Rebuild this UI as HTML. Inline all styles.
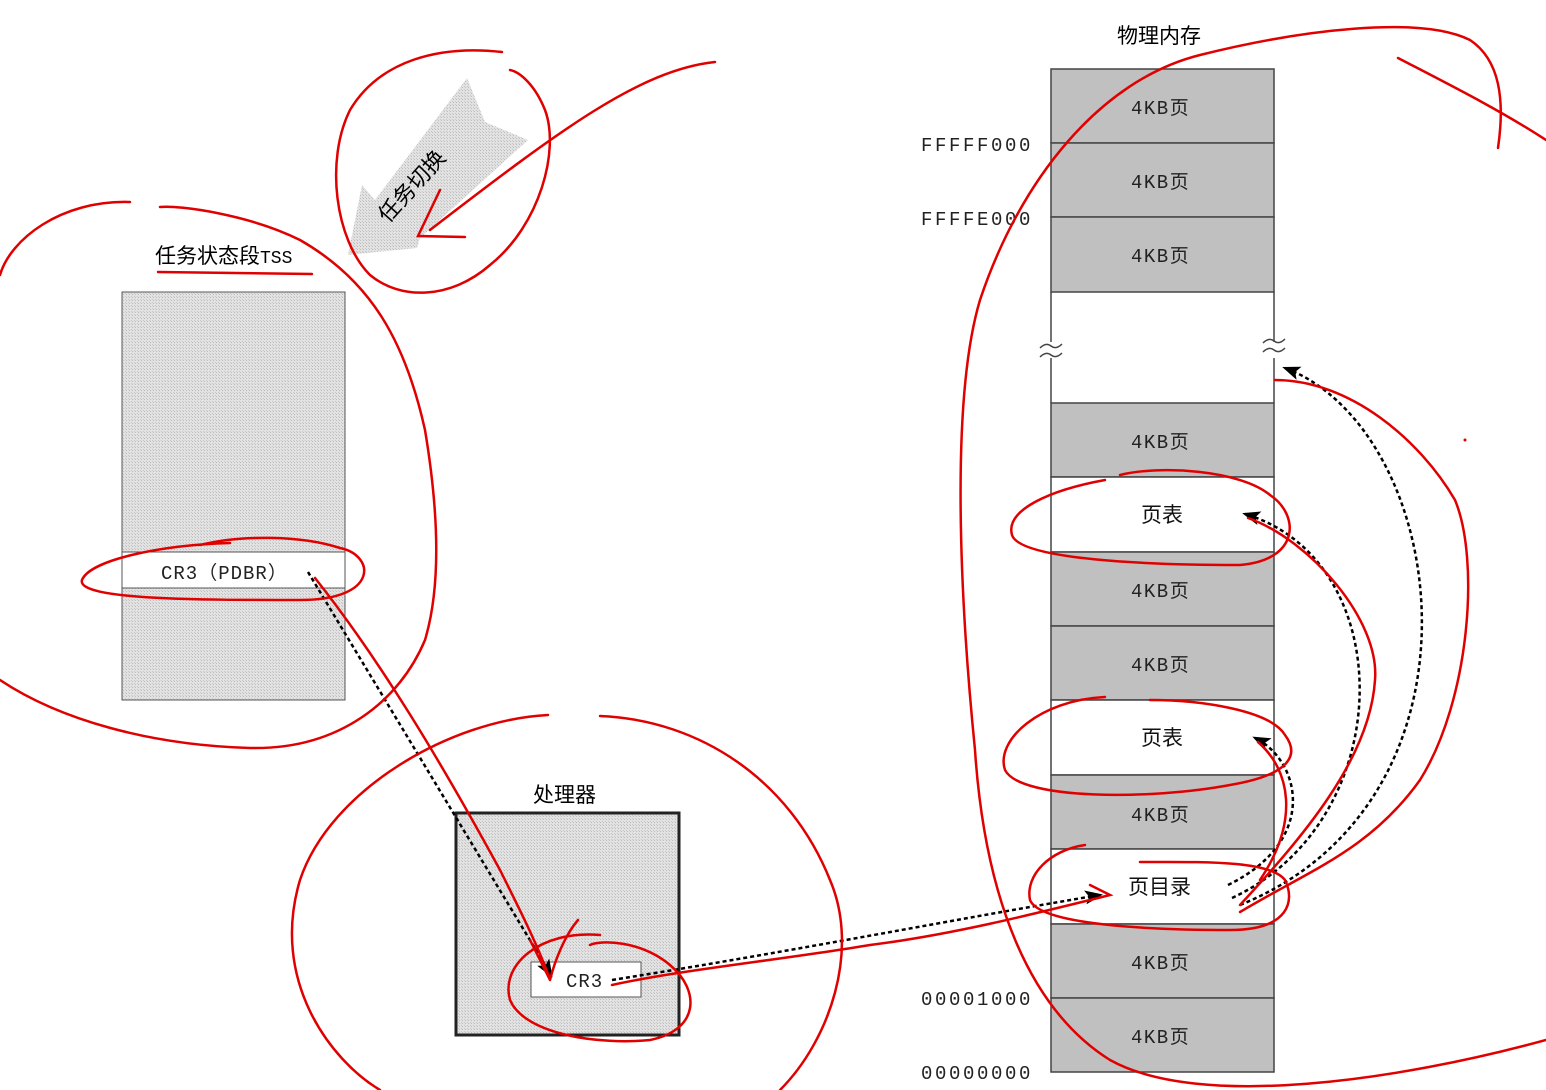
<!DOCTYPE html>
<html><head><meta charset="utf-8"><style>
html,body{margin:0;padding:0;background:#fff;}
svg{display:block;}
text{font-family:"Liberation Mono","Noto Sans CJK SC",monospace;}
.cjk{font-family:"Liberation Sans","Noto Sans CJK SC",sans-serif;}
</style></head><body>
<svg width="1546" height="1090" viewBox="0 0 1546 1090" xmlns="http://www.w3.org/2000/svg">
<defs>
<pattern id="hat" width="3" height="3" patternUnits="userSpaceOnUse">
<rect width="3" height="3" fill="#e2e2e2"/><rect width="1" height="1" fill="#bdbdbd"/><rect x="2" y="2" width="1" height="1" fill="#c8c8c8"/>
</pattern>
<marker id="ah" markerWidth="18" markerHeight="14" refX="15" refY="7" orient="auto" markerUnits="userSpaceOnUse" viewBox="0 0 18 14"><path d="M0,0 L18,7 L0,14 L4,7 z" fill="#000"/></marker>
</defs>

<!-- task switch arrow -->
<polygon points="467,78 485,122 528,140 420,238 417,248 348,255 362,185 375,200" fill="url(#hat)"/>
<text class="cjk" x="0" y="0" font-size="22" fill="#000" transform="translate(388,224) rotate(-48)">任务切换</text>

<!-- TSS -->
<text class="cjk" x="155" y="263" font-size="21" fill="#000">任务状态段<tspan font-family="Liberation Mono" font-size="18">TSS</tspan></text>
<rect x="122" y="292" width="223" height="408" fill="url(#hat)" stroke="#555" stroke-width="1"/>
<rect x="122" y="552" width="223" height="36" fill="#fff" stroke="#555" stroke-width="1"/>
<text x="161" y="579" font-size="19" fill="#222" letter-spacing="1">CR3（PDBR）</text>

<!-- processor -->
<text class="cjk" x="533" y="802" font-size="21" fill="#000">处理器</text>
<rect x="456" y="813" width="223" height="222" fill="url(#hat)" stroke="#222" stroke-width="3"/>
<rect x="531" y="962" width="110" height="35" fill="#fff" stroke="#555" stroke-width="1"/>
<text x="566" y="987" font-size="19" fill="#222" letter-spacing="1">CR3</text>

<!-- memory -->
<text class="cjk" x="1117" y="43" font-size="21" fill="#000">物理内存</text>
<g stroke="#444" stroke-width="1.5">
<rect x="1051" y="69" width="223" height="74" fill="#c0c0c0"/>
<rect x="1051" y="143" width="223" height="74" fill="#c0c0c0"/>
<rect x="1051" y="217" width="223" height="75" fill="#c0c0c0"/>
<rect x="1051" y="403" width="223" height="74" fill="#c0c0c0"/>
<rect x="1051" y="477" width="223" height="75" fill="#fff"/>
<rect x="1051" y="552" width="223" height="74" fill="#c0c0c0"/>
<rect x="1051" y="626" width="223" height="74" fill="#c0c0c0"/>
<rect x="1051" y="700" width="223" height="75" fill="#fff"/>
<rect x="1051" y="775" width="223" height="74" fill="#c0c0c0"/>
<rect x="1051" y="849" width="223" height="75" fill="#fff"/>
<rect x="1051" y="924" width="223" height="74" fill="#c0c0c0"/>
<rect x="1051" y="998" width="223" height="74" fill="#c0c0c0"/>
</g>
<g stroke="#444" stroke-width="1.5" fill="none">
<line x1="1051" y1="292" x2="1051" y2="342"/><line x1="1051" y1="358" x2="1051" y2="403"/>
<line x1="1274" y1="292" x2="1274" y2="342"/><line x1="1274" y1="358" x2="1274" y2="403"/>
<path d="M1040,348 q6,-6 11,-2 t11,-2"/><path d="M1040,357 q6,-6 11,-2 t11,-2"/>
<path d="M1263,343 q6,-6 11,-2 t11,-2"/><path d="M1263,352 q6,-6 11,-2 t11,-2"/>
</g>
<g font-size="19" fill="#222" letter-spacing="1.5">
<text x="1131" y="114">4KB<tspan class="cjk">页</tspan></text>
<text x="1131" y="188">4KB<tspan class="cjk">页</tspan></text>
<text x="1131" y="262">4KB<tspan class="cjk">页</tspan></text>
<text x="1131" y="448">4KB<tspan class="cjk">页</tspan></text>
<text x="1131" y="597">4KB<tspan class="cjk">页</tspan></text>
<text x="1131" y="671">4KB<tspan class="cjk">页</tspan></text>
<text x="1131" y="821">4KB<tspan class="cjk">页</tspan></text>
<text x="1131" y="969">4KB<tspan class="cjk">页</tspan></text>
<text x="1131" y="1043">4KB<tspan class="cjk">页</tspan></text>
</g>
<g class="cjk" font-size="21" fill="#111">
<text x="1141" y="522">页表</text>
<text x="1141" y="745">页表</text>
<text x="1128" y="894">页目录</text>
</g>
<g font-size="19" fill="#222" letter-spacing="2.6">
<text x="921" y="151">FFFFF000</text>
<text x="921" y="225">FFFFE000</text>
<text x="921" y="1005">00001000</text>
<text x="921" y="1079">00000000</text>
</g>

<!-- dotted arrows -->
<g stroke="#000" stroke-width="2.5" stroke-dasharray="4,3" fill="none">
<path d="M308,572 L551,975" marker-end="url(#ah)"/>
<path d="M612,980 C800,950 950,920 1100,895" marker-end="url(#ah)"/>
<path d="M1228,885 C1320,840 1300,760 1255,738" marker-end="url(#ah)"/>
<path d="M1232,898 C1400,820 1400,560 1245,514" marker-end="url(#ah)"/>
<path d="M1240,905 C1500,800 1450,430 1285,368" marker-end="url(#ah)"/>
</g>

<!-- red annotations -->
<g stroke="#e00000" stroke-width="2.5" fill="none" stroke-linecap="round">
<path d="M502,52 C440,45 380,60 350,110 C325,160 335,240 370,275 C400,300 450,300 490,265 C540,225 560,150 545,110 C535,85 520,72 510,70"/>
<path d="M715,62 C640,70 560,130 430,230 M440,190 L418,236 L465,237"/>
<path d="M130,202 C60,200 10,240 0,275 M0,680 C60,720 150,745 250,748 C340,750 400,700 425,640 C440,590 440,520 425,430 C405,340 370,280 300,240 C250,215 180,205 160,207"/>
<path d="M158,272 L312,274"/>
<path d="M230,543 C160,545 90,560 82,580 C76,600 200,600 300,600 C380,600 375,555 340,548 C300,535 240,535 200,545"/>
<path d="M315,578 C380,660 440,760 500,870 C520,910 540,950 550,980 L530,940 M550,980 C555,960 565,935 578,920"/>
<path d="M548,715 C450,720 330,790 300,880 C270,980 330,1060 380,1090 M780,1090 C830,1040 860,950 830,880 C790,780 700,720 600,716"/>
<path d="M600,935 C540,930 500,965 510,1000 C525,1035 600,1045 650,1040 C700,1030 700,990 670,965 C640,940 600,940 590,945 M612,985 C680,970 780,960 870,945 C950,935 1030,915 1110,895 L1090,885"/>
<path d="M1398,58 C1450,85 1500,110 1546,140 M1498,148 C1505,100 1500,60 1470,40 C1420,15 1300,30 1200,55 C1100,80 1020,180 980,300 C950,400 960,600 975,750 C985,900 1030,1010 1110,1060 C1200,1110 1400,1080 1546,1040"/>
<path d="M1105,480 C1050,490 1005,510 1012,535 C1020,560 1150,565 1240,565 C1300,560 1300,515 1270,495 C1240,470 1160,465 1120,475"/>
<path d="M1105,697 C1040,700 995,740 1005,770 C1020,800 1150,800 1230,785 C1290,775 1300,755 1285,735 C1270,710 1200,700 1150,700"/>
<path d="M1085,845 C1050,850 1025,875 1030,900 C1040,925 1150,930 1230,930 C1290,930 1295,900 1285,880 C1270,860 1200,862 1140,862"/>
<path d="M1248,518 C1310,540 1380,620 1375,680 C1370,760 1300,840 1240,905"/>
<path d="M1275,380 C1350,380 1420,440 1455,500 C1480,560 1470,700 1420,780 C1370,850 1310,870 1240,912"/>
<path d="M1258,742 C1290,770 1300,820 1260,880"/>
</g>
<circle cx="1465" cy="440" r="1.5" fill="#e00000"/>
</svg>
</body></html>
